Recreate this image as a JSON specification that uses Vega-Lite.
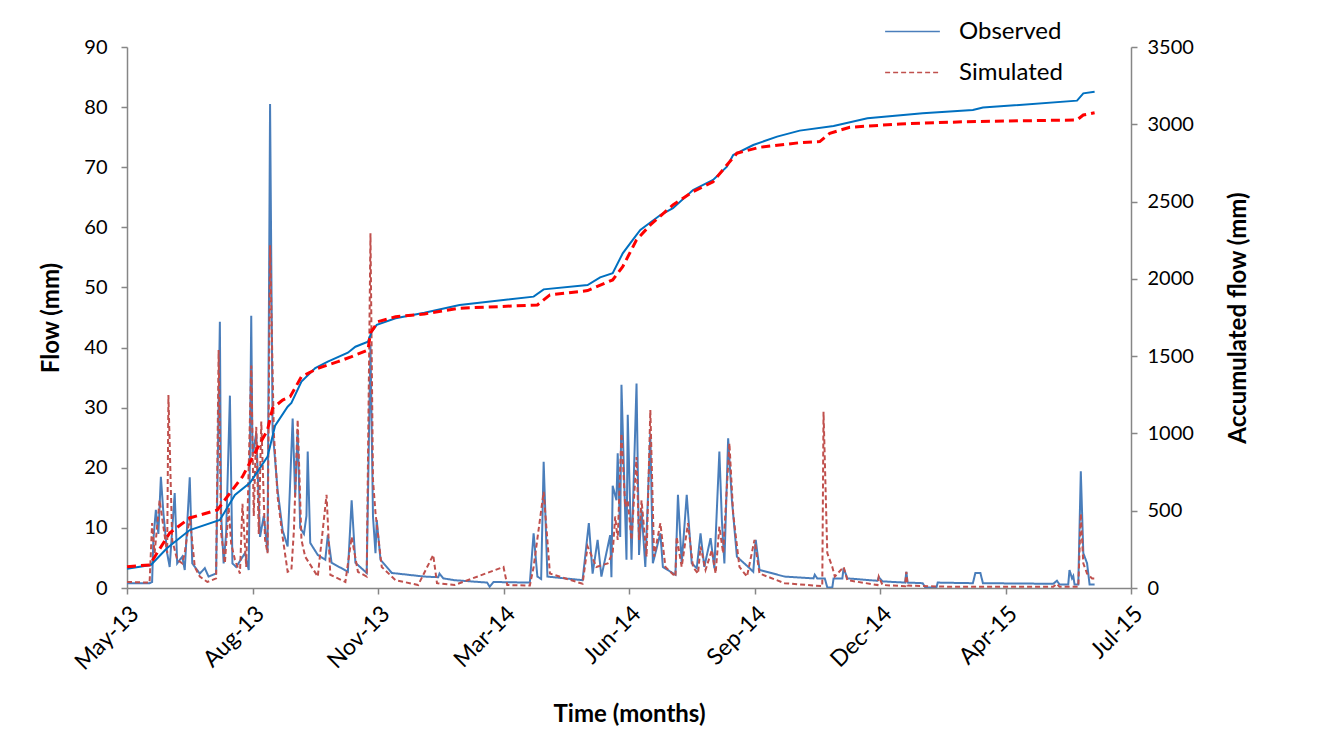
{
  "$schema": "https://vega.github.io/schema/vega-lite/v6.json",
  "width": 1004,
  "height": 541,
  "autosize": {"type": "none"},
  "padding": {"left": 127, "top": 47, "right": 194, "bottom": 147},
  "background": "white",
  "config": {
    "view": {"stroke": null},
    "font": "Lato",
    "axis": {"grid": false, "domainColor": "#868686", "tickColor": "#868686", "domainWidth": 1.5, "tickWidth": 1.5, "tickSize": 6, "labelColor": "#000000", "titleColor": "#000000", "labelFont": "Lato", "titleFont": "Lato", "labelFontSize": 20, "titleFontSize": 24, "titleFontWeight": "bold"}
  },
  "datasets": {
    "flow": [
      {"date":"2013-05-06","series":"Observed","flow":0.8},
      {"date":"2013-05-24","series":"Observed","flow":0.8},
      {"date":"2013-05-26","series":"Observed","flow":1.0},
      {"date":"2013-05-27","series":"Observed","flow":8},
      {"date":"2013-05-29","series":"Observed","flow":13},
      {"date":"2013-05-31","series":"Observed","flow":9},
      {"date":"2013-06-02","series":"Observed","flow":18.5},
      {"date":"2013-06-04","series":"Observed","flow":12.5},
      {"date":"2013-06-07","series":"Observed","flow":5.8},
      {"date":"2013-06-09","series":"Observed","flow":3.5},
      {"date":"2013-06-13","series":"Observed","flow":15.8},
      {"date":"2013-06-15","series":"Observed","flow":4.1},
      {"date":"2013-06-19","series":"Observed","flow":5.2},
      {"date":"2013-06-21","series":"Observed","flow":3.0},
      {"date":"2013-06-25","series":"Observed","flow":18.4},
      {"date":"2013-06-27","series":"Observed","flow":4.1},
      {"date":"2013-07-03","series":"Observed","flow":2.4},
      {"date":"2013-07-07","series":"Observed","flow":3.3},
      {"date":"2013-07-10","series":"Observed","flow":1.9},
      {"date":"2013-07-16","series":"Observed","flow":2.4},
      {"date":"2013-07-19","series":"Observed","flow":44.3},
      {"date":"2013-07-20","series":"Observed","flow":12.4},
      {"date":"2013-07-22","series":"Observed","flow":4.1},
      {"date":"2013-07-24","series":"Observed","flow":9.1},
      {"date":"2013-07-27","series":"Observed","flow":32},
      {"date":"2013-07-29","series":"Observed","flow":4.1},
      {"date":"2013-08-01","series":"Observed","flow":3.5},
      {"date":"2013-08-08","series":"Observed","flow":5.8},
      {"date":"2013-08-11","series":"Observed","flow":3.0},
      {"date":"2013-08-13","series":"Observed","flow":45.3},
      {"date":"2013-08-14","series":"Observed","flow":22},
      {"date":"2013-08-17","series":"Observed","flow":25.8},
      {"date":"2013-08-20","series":"Observed","flow":8.5},
      {"date":"2013-08-23","series":"Observed","flow":12},
      {"date":"2013-08-26","series":"Observed","flow":6},
      {"date":"2013-08-28","series":"Observed","flow":80.5},
      {"date":"2013-08-30","series":"Observed","flow":26.3},
      {"date":"2013-09-03","series":"Observed","flow":16.3},
      {"date":"2013-09-07","series":"Observed","flow":9.6},
      {"date":"2013-09-11","series":"Observed","flow":6.9},
      {"date":"2013-09-15","series":"Observed","flow":28.2},
      {"date":"2013-09-17","series":"Observed","flow":15.2},
      {"date":"2013-09-19","series":"Observed","flow":26.3},
      {"date":"2013-09-21","series":"Observed","flow":10},
      {"date":"2013-09-24","series":"Observed","flow":9},
      {"date":"2013-09-26","series":"Observed","flow":12},
      {"date":"2013-09-27","series":"Observed","flow":22.7},
      {"date":"2013-09-29","series":"Observed","flow":7.5},
      {"date":"2013-10-05","series":"Observed","flow":5.5},
      {"date":"2013-10-11","series":"Observed","flow":4.7},
      {"date":"2013-10-13","series":"Observed","flow":8.8},
      {"date":"2013-10-16","series":"Observed","flow":4.2},
      {"date":"2013-10-29","series":"Observed","flow":2.7},
      {"date":"2013-11-01","series":"Observed","flow":14.6},
      {"date":"2013-11-04","series":"Observed","flow":4.2},
      {"date":"2013-11-13","series":"Observed","flow":2.5},
      {"date":"2013-11-16","series":"Observed","flow":40.5},
      {"date":"2013-11-18","series":"Observed","flow":11.9},
      {"date":"2013-11-20","series":"Observed","flow":5.8},
      {"date":"2013-11-21","series":"Observed","flow":11.3},
      {"date":"2013-11-24","series":"Observed","flow":4.7},
      {"date":"2013-12-03","series":"Observed","flow":2.5},
      {"date":"2013-12-29","series":"Observed","flow":1.9},
      {"date":"2014-01-09","series":"Observed","flow":1.8},
      {"date":"2014-01-10","series":"Observed","flow":2.4},
      {"date":"2014-01-13","series":"Observed","flow":1.6},
      {"date":"2014-01-22","series":"Observed","flow":1.3},
      {"date":"2014-02-17","series":"Observed","flow":0.9},
      {"date":"2014-02-19","series":"Observed","flow":0.2},
      {"date":"2014-02-22","series":"Observed","flow":1.0},
      {"date":"2014-03-23","series":"Observed","flow":0.9},
      {"date":"2014-03-26","series":"Observed","flow":9.1},
      {"date":"2014-03-29","series":"Observed","flow":1.9},
      {"date":"2014-04-01","series":"Observed","flow":1.5},
      {"date":"2014-04-03","series":"Observed","flow":21},
      {"date":"2014-04-06","series":"Observed","flow":1.9},
      {"date":"2014-05-04","series":"Observed","flow":1.3},
      {"date":"2014-05-09","series":"Observed","flow":10.8},
      {"date":"2014-05-12","series":"Observed","flow":2.4},
      {"date":"2014-05-16","series":"Observed","flow":8},
      {"date":"2014-05-19","series":"Observed","flow":1.9},
      {"date":"2014-05-26","series":"Observed","flow":8.8},
      {"date":"2014-05-27","series":"Observed","flow":1.8},
      {"date":"2014-05-28","series":"Observed","flow":17},
      {"date":"2014-05-31","series":"Observed","flow":14.6},
      {"date":"2014-06-01","series":"Observed","flow":22.4},
      {"date":"2014-06-03","series":"Observed","flow":8.5},
      {"date":"2014-06-04","series":"Observed","flow":33.8},
      {"date":"2014-06-08","series":"Observed","flow":4.7},
      {"date":"2014-06-09","series":"Observed","flow":28.8},
      {"date":"2014-06-12","series":"Observed","flow":4.7},
      {"date":"2014-06-13","series":"Observed","flow":12.4},
      {"date":"2014-06-16","series":"Observed","flow":34},
      {"date":"2014-06-18","series":"Observed","flow":5.5},
      {"date":"2014-06-20","series":"Observed","flow":13},
      {"date":"2014-06-23","series":"Observed","flow":3.5},
      {"date":"2014-06-27","series":"Observed","flow":25.7},
      {"date":"2014-06-29","series":"Observed","flow":4.1},
      {"date":"2014-07-05","series":"Observed","flow":9.1},
      {"date":"2014-07-07","series":"Observed","flow":3.5},
      {"date":"2014-07-17","series":"Observed","flow":2.2},
      {"date":"2014-07-19","series":"Observed","flow":15.5},
      {"date":"2014-07-22","series":"Observed","flow":4.1},
      {"date":"2014-07-26","series":"Observed","flow":15.5},
      {"date":"2014-07-30","series":"Observed","flow":4.1},
      {"date":"2014-08-03","series":"Observed","flow":3.3},
      {"date":"2014-08-06","series":"Observed","flow":9.1},
      {"date":"2014-08-09","series":"Observed","flow":3.5},
      {"date":"2014-08-14","series":"Observed","flow":8.3},
      {"date":"2014-08-17","series":"Observed","flow":3.3},
      {"date":"2014-08-21","series":"Observed","flow":22.7},
      {"date":"2014-08-23","series":"Observed","flow":11.3},
      {"date":"2014-08-25","series":"Observed","flow":4.1},
      {"date":"2014-08-28","series":"Observed","flow":24.9},
      {"date":"2014-08-31","series":"Observed","flow":14.6},
      {"date":"2014-09-04","series":"Observed","flow":5.2},
      {"date":"2014-09-13","series":"Observed","flow":3.5},
      {"date":"2014-09-17","series":"Observed","flow":2.7},
      {"date":"2014-09-19","series":"Observed","flow":8},
      {"date":"2014-09-22","series":"Observed","flow":3},
      {"date":"2014-10-12","series":"Observed","flow":1.9},
      {"date":"2014-11-04","series":"Observed","flow":1.6},
      {"date":"2014-11-05","series":"Observed","flow":2.2},
      {"date":"2014-11-07","series":"Observed","flow":1.6},
      {"date":"2014-11-13","series":"Observed","flow":1.6},
      {"date":"2014-11-15","series":"Observed","flow":0.1},
      {"date":"2014-11-19","series":"Observed","flow":0.1},
      {"date":"2014-11-20","series":"Observed","flow":1.6},
      {"date":"2014-11-27","series":"Observed","flow":1.6},
      {"date":"2014-11-28","series":"Observed","flow":3.3},
      {"date":"2014-12-01","series":"Observed","flow":1.6},
      {"date":"2014-12-25","series":"Observed","flow":1.2},
      {"date":"2014-12-26","series":"Observed","flow":1.8},
      {"date":"2014-12-29","series":"Observed","flow":1.1},
      {"date":"2015-01-16","series":"Observed","flow":0.9},
      {"date":"2015-01-17","series":"Observed","flow":2.7},
      {"date":"2015-01-18","series":"Observed","flow":0.9},
      {"date":"2015-01-30","series":"Observed","flow":0.8},
      {"date":"2015-02-01","series":"Observed","flow":0.1},
      {"date":"2015-02-10","series":"Observed","flow":0.1},
      {"date":"2015-02-11","series":"Observed","flow":0.9},
      {"date":"2015-03-11","series":"Observed","flow":0.8},
      {"date":"2015-03-13","series":"Observed","flow":2.5},
      {"date":"2015-03-17","series":"Observed","flow":2.5},
      {"date":"2015-03-19","series":"Observed","flow":0.8},
      {"date":"2015-05-14","series":"Observed","flow":0.7},
      {"date":"2015-05-17","series":"Observed","flow":1.2},
      {"date":"2015-05-19","series":"Observed","flow":0.6},
      {"date":"2015-05-26","series":"Observed","flow":0.6},
      {"date":"2015-05-27","series":"Observed","flow":3.0},
      {"date":"2015-05-29","series":"Observed","flow":1.6},
      {"date":"2015-05-30","series":"Observed","flow":2.0},
      {"date":"2015-05-31","series":"Observed","flow":0.6},
      {"date":"2015-06-03","series":"Observed","flow":0.6},
      {"date":"2015-06-05","series":"Observed","flow":19.4},
      {"date":"2015-06-07","series":"Observed","flow":5.8},
      {"date":"2015-06-10","series":"Observed","flow":4.1},
      {"date":"2015-06-12","series":"Observed","flow":0.6},
      {"date":"2015-06-16","series":"Observed","flow":0.6},
      {"date":"2013-05-06","series":"Simulated","flow":1.0},
      {"date":"2013-05-24","series":"Simulated","flow":0.9},
      {"date":"2013-05-26","series":"Simulated","flow":10.8},
      {"date":"2013-05-28","series":"Simulated","flow":5.8},
      {"date":"2013-06-01","series":"Simulated","flow":14.6},
      {"date":"2013-06-04","series":"Simulated","flow":10.2},
      {"date":"2013-06-07","series":"Simulated","flow":5.8},
      {"date":"2013-06-08","series":"Simulated","flow":32.1},
      {"date":"2013-06-11","series":"Simulated","flow":8},
      {"date":"2013-06-15","series":"Simulated","flow":4.7},
      {"date":"2013-06-19","series":"Simulated","flow":4.1},
      {"date":"2013-06-21","series":"Simulated","flow":5.8},
      {"date":"2013-06-25","series":"Simulated","flow":11.9},
      {"date":"2013-06-29","series":"Simulated","flow":3.5},
      {"date":"2013-07-03","series":"Simulated","flow":1.9},
      {"date":"2013-07-09","series":"Simulated","flow":1.0},
      {"date":"2013-07-16","series":"Simulated","flow":1.6},
      {"date":"2013-07-18","series":"Simulated","flow":39.6},
      {"date":"2013-07-20","series":"Simulated","flow":9.1},
      {"date":"2013-07-23","series":"Simulated","flow":4.1},
      {"date":"2013-07-26","series":"Simulated","flow":13.5},
      {"date":"2013-07-28","series":"Simulated","flow":7.4},
      {"date":"2013-07-31","series":"Simulated","flow":4.7},
      {"date":"2013-08-04","series":"Simulated","flow":2.4},
      {"date":"2013-08-06","series":"Simulated","flow":14},
      {"date":"2013-08-09","series":"Simulated","flow":3.5},
      {"date":"2013-08-13","series":"Simulated","flow":37},
      {"date":"2013-08-15","series":"Simulated","flow":12},
      {"date":"2013-08-17","series":"Simulated","flow":26.8},
      {"date":"2013-08-19","series":"Simulated","flow":9},
      {"date":"2013-08-21","series":"Simulated","flow":27.7},
      {"date":"2013-08-24","series":"Simulated","flow":8},
      {"date":"2013-08-26","series":"Simulated","flow":5.8},
      {"date":"2013-08-28","series":"Simulated","flow":57},
      {"date":"2013-08-31","series":"Simulated","flow":25.8},
      {"date":"2013-09-03","series":"Simulated","flow":15.2},
      {"date":"2013-09-07","series":"Simulated","flow":8.5},
      {"date":"2013-09-11","series":"Simulated","flow":2.7},
      {"date":"2013-09-14","series":"Simulated","flow":3},
      {"date":"2013-09-16","series":"Simulated","flow":9.6},
      {"date":"2013-09-19","series":"Simulated","flow":28},
      {"date":"2013-09-22","series":"Simulated","flow":8},
      {"date":"2013-09-25","series":"Simulated","flow":5.2},
      {"date":"2013-10-05","series":"Simulated","flow":1.9},
      {"date":"2013-10-12","series":"Simulated","flow":15.5},
      {"date":"2013-10-15","series":"Simulated","flow":2.2},
      {"date":"2013-10-27","series":"Simulated","flow":1.0},
      {"date":"2013-11-01","series":"Simulated","flow":8.5},
      {"date":"2013-11-06","series":"Simulated","flow":2.7},
      {"date":"2013-11-13","series":"Simulated","flow":1.9},
      {"date":"2013-11-16","series":"Simulated","flow":59},
      {"date":"2013-11-18","series":"Simulated","flow":18},
      {"date":"2013-11-20","series":"Simulated","flow":12.5},
      {"date":"2013-11-25","series":"Simulated","flow":3.5},
      {"date":"2013-12-06","series":"Simulated","flow":1.3},
      {"date":"2013-12-24","series":"Simulated","flow":0.5},
      {"date":"2014-01-05","series":"Simulated","flow":5.5},
      {"date":"2014-01-08","series":"Simulated","flow":0.8},
      {"date":"2014-01-22","series":"Simulated","flow":0.5},
      {"date":"2014-03-02","series":"Simulated","flow":3.5},
      {"date":"2014-03-05","series":"Simulated","flow":0.5},
      {"date":"2014-03-23","series":"Simulated","flow":0.4},
      {"date":"2014-03-26","series":"Simulated","flow":3.5},
      {"date":"2014-04-03","series":"Simulated","flow":16},
      {"date":"2014-04-08","series":"Simulated","flow":2.4},
      {"date":"2014-05-04","series":"Simulated","flow":0.7},
      {"date":"2014-05-08","series":"Simulated","flow":6.9},
      {"date":"2014-05-15","series":"Simulated","flow":3.5},
      {"date":"2014-05-24","series":"Simulated","flow":4.1},
      {"date":"2014-05-28","series":"Simulated","flow":5.8},
      {"date":"2014-05-30","series":"Simulated","flow":11.9},
      {"date":"2014-06-01","series":"Simulated","flow":8},
      {"date":"2014-06-04","series":"Simulated","flow":25.7},
      {"date":"2014-06-07","series":"Simulated","flow":13.5},
      {"date":"2014-06-09","series":"Simulated","flow":14.6},
      {"date":"2014-06-12","series":"Simulated","flow":8},
      {"date":"2014-06-16","series":"Simulated","flow":21.8},
      {"date":"2014-06-18","series":"Simulated","flow":8},
      {"date":"2014-06-20","series":"Simulated","flow":14.6},
      {"date":"2014-06-24","series":"Simulated","flow":5.2},
      {"date":"2014-06-27","series":"Simulated","flow":29.6},
      {"date":"2014-06-30","series":"Simulated","flow":5.2},
      {"date":"2014-07-05","series":"Simulated","flow":10.8},
      {"date":"2014-07-09","series":"Simulated","flow":3.5},
      {"date":"2014-07-17","series":"Simulated","flow":1.9},
      {"date":"2014-07-18","series":"Simulated","flow":8.5},
      {"date":"2014-07-22","series":"Simulated","flow":3.5},
      {"date":"2014-07-27","series":"Simulated","flow":10.8},
      {"date":"2014-07-31","series":"Simulated","flow":3.5},
      {"date":"2014-08-04","series":"Simulated","flow":2.4},
      {"date":"2014-08-06","series":"Simulated","flow":6.9},
      {"date":"2014-08-10","series":"Simulated","flow":3},
      {"date":"2014-08-15","series":"Simulated","flow":6.3},
      {"date":"2014-08-18","series":"Simulated","flow":2.4},
      {"date":"2014-08-21","series":"Simulated","flow":10.2},
      {"date":"2014-08-24","series":"Simulated","flow":5.8},
      {"date":"2014-08-29","series":"Simulated","flow":24.1},
      {"date":"2014-09-01","series":"Simulated","flow":12.4},
      {"date":"2014-09-06","series":"Simulated","flow":3.5},
      {"date":"2014-09-12","series":"Simulated","flow":1.9},
      {"date":"2014-09-18","series":"Simulated","flow":8},
      {"date":"2014-09-22","series":"Simulated","flow":2.4},
      {"date":"2014-10-12","series":"Simulated","flow":0.8},
      {"date":"2014-11-11","series":"Simulated","flow":0.3},
      {"date":"2014-11-12","series":"Simulated","flow":29.3},
      {"date":"2014-11-15","series":"Simulated","flow":5.8},
      {"date":"2014-11-19","series":"Simulated","flow":3.5},
      {"date":"2014-11-21","series":"Simulated","flow":1.9},
      {"date":"2014-11-28","series":"Simulated","flow":3.5},
      {"date":"2014-12-01","series":"Simulated","flow":1.3},
      {"date":"2014-12-25","series":"Simulated","flow":0.5},
      {"date":"2014-12-26","series":"Simulated","flow":1.9},
      {"date":"2014-12-29","series":"Simulated","flow":0.5},
      {"date":"2015-01-16","series":"Simulated","flow":0.3},
      {"date":"2015-01-17","series":"Simulated","flow":2.7},
      {"date":"2015-01-18","series":"Simulated","flow":0.4},
      {"date":"2015-02-21","series":"Simulated","flow":0.2},
      {"date":"2015-05-14","series":"Simulated","flow":0.2},
      {"date":"2015-05-17","series":"Simulated","flow":0.7},
      {"date":"2015-05-19","series":"Simulated","flow":0.2},
      {"date":"2015-06-03","series":"Simulated","flow":0.2},
      {"date":"2015-06-05","series":"Simulated","flow":12.4},
      {"date":"2015-06-07","series":"Simulated","flow":4.1},
      {"date":"2015-06-10","series":"Simulated","flow":2.4},
      {"date":"2015-06-14","series":"Simulated","flow":1.6},
      {"date":"2015-06-16","series":"Simulated","flow":1.6}
    ],
    "acc": [
      {"date":"2013-05-06","series":"Observed","acc":125},
      {"date":"2013-05-25","series":"Observed","acc":149},
      {"date":"2013-06-07","series":"Observed","acc":259},
      {"date":"2013-06-25","series":"Observed","acc":375},
      {"date":"2013-07-19","series":"Observed","acc":440},
      {"date":"2013-07-31","series":"Observed","acc":602},
      {"date":"2013-08-12","series":"Observed","acc":680},
      {"date":"2013-08-26","series":"Observed","acc":850},
      {"date":"2013-09-01","series":"Observed","acc":1050},
      {"date":"2013-09-11","series":"Observed","acc":1173},
      {"date":"2013-09-14","series":"Observed","acc":1197},
      {"date":"2013-09-22","series":"Observed","acc":1335},
      {"date":"2013-10-03","series":"Observed","acc":1423},
      {"date":"2013-10-13","series":"Observed","acc":1464},
      {"date":"2013-10-29","series":"Observed","acc":1522},
      {"date":"2013-11-04","series":"Observed","acc":1561},
      {"date":"2013-11-14","series":"Observed","acc":1594},
      {"date":"2013-11-17","series":"Observed","acc":1658},
      {"date":"2013-11-21","series":"Observed","acc":1702},
      {"date":"2013-12-06","series":"Observed","acc":1745},
      {"date":"2013-12-29","series":"Observed","acc":1781},
      {"date":"2014-01-26","series":"Observed","acc":1831},
      {"date":"2014-03-26","series":"Observed","acc":1885},
      {"date":"2014-04-03","series":"Observed","acc":1932},
      {"date":"2014-05-08","series":"Observed","acc":1960},
      {"date":"2014-05-18","series":"Observed","acc":2010},
      {"date":"2014-05-28","series":"Observed","acc":2036},
      {"date":"2014-06-05","series":"Observed","acc":2165},
      {"date":"2014-06-13","series":"Observed","acc":2252},
      {"date":"2014-06-19","series":"Observed","acc":2316},
      {"date":"2014-07-05","series":"Observed","acc":2413},
      {"date":"2014-07-15","series":"Observed","acc":2457},
      {"date":"2014-07-31","series":"Observed","acc":2575},
      {"date":"2014-08-16","series":"Observed","acc":2640},
      {"date":"2014-08-27","series":"Observed","acc":2726},
      {"date":"2014-09-01","series":"Observed","acc":2801},
      {"date":"2014-09-17","series":"Observed","acc":2866},
      {"date":"2014-10-06","series":"Observed","acc":2920},
      {"date":"2014-10-24","series":"Observed","acc":2959},
      {"date":"2014-11-20","series":"Observed","acc":2989},
      {"date":"2014-12-17","series":"Observed","acc":3039},
      {"date":"2015-01-30","series":"Observed","acc":3071},
      {"date":"2015-03-11","series":"Observed","acc":3093},
      {"date":"2015-03-19","series":"Observed","acc":3108},
      {"date":"2015-06-02","series":"Observed","acc":3153},
      {"date":"2015-06-07","series":"Observed","acc":3200},
      {"date":"2015-06-16","series":"Observed","acc":3211},
      {"date":"2013-05-06","series":"Simulated","acc":138},
      {"date":"2013-05-24","series":"Simulated","acc":149},
      {"date":"2013-06-09","series":"Simulated","acc":356},
      {"date":"2013-06-25","series":"Simulated","acc":453},
      {"date":"2013-07-17","series":"Simulated","acc":505},
      {"date":"2013-07-27","series":"Simulated","acc":614},
      {"date":"2013-08-06","series":"Simulated","acc":720},
      {"date":"2013-08-20","series":"Simulated","acc":936},
      {"date":"2013-08-26","series":"Simulated","acc":1022},
      {"date":"2013-08-30","series":"Simulated","acc":1163},
      {"date":"2013-09-07","series":"Simulated","acc":1216},
      {"date":"2013-09-13","series":"Simulated","acc":1238},
      {"date":"2013-09-22","series":"Simulated","acc":1367},
      {"date":"2013-10-05","series":"Simulated","acc":1421},
      {"date":"2013-10-21","series":"Simulated","acc":1464},
      {"date":"2013-11-01","series":"Simulated","acc":1497},
      {"date":"2013-11-14","series":"Simulated","acc":1540},
      {"date":"2013-11-16","series":"Simulated","acc":1650},
      {"date":"2013-11-22","series":"Simulated","acc":1723},
      {"date":"2013-12-06","series":"Simulated","acc":1755},
      {"date":"2013-12-29","series":"Simulated","acc":1773},
      {"date":"2014-01-26","series":"Simulated","acc":1810},
      {"date":"2014-03-29","series":"Simulated","acc":1831},
      {"date":"2014-04-08","series":"Simulated","acc":1896},
      {"date":"2014-05-08","series":"Simulated","acc":1924},
      {"date":"2014-05-28","series":"Simulated","acc":1993},
      {"date":"2014-06-05","series":"Simulated","acc":2079},
      {"date":"2014-06-16","series":"Simulated","acc":2252},
      {"date":"2014-06-27","series":"Simulated","acc":2349},
      {"date":"2014-07-15","series":"Simulated","acc":2478},
      {"date":"2014-07-31","series":"Simulated","acc":2564},
      {"date":"2014-08-16","series":"Simulated","acc":2628},
      {"date":"2014-08-27","series":"Simulated","acc":2737},
      {"date":"2014-09-04","series":"Simulated","acc":2813},
      {"date":"2014-09-22","series":"Simulated","acc":2851},
      {"date":"2014-10-24","series":"Simulated","acc":2881},
      {"date":"2014-11-09","series":"Simulated","acc":2888},
      {"date":"2014-11-17","series":"Simulated","acc":2942},
      {"date":"2014-12-03","series":"Simulated","acc":2981},
      {"date":"2015-01-12","series":"Simulated","acc":3002},
      {"date":"2015-03-06","series":"Simulated","acc":3017},
      {"date":"2015-06-02","series":"Simulated","acc":3028},
      {"date":"2015-06-07","series":"Simulated","acc":3060},
      {"date":"2015-06-16","series":"Simulated","acc":3075}
    ]
  },
  "layer": [
    {
      "data": {"name": "flow"},
      "mark": {"type": "line", "strokeWidth": 2, "clip": true},
      "encoding": {
        "x": {
          "field": "date", "type": "temporal",
          "scale": {"type": "utc", "domain": [{"year": 2013, "month": 5, "date": 6, "utc": true}, {"year": 2015, "month": 7, "date": 15, "utc": true}]},
          "axis": {
            "title": "Time (months)", "format": "%b-%y", "labelAngle": -45, "labelAlign": "right", "labelBaseline": "top", "labelPadding": 8, "labelFontSize": 23, "titlePadding": 28,
            "values": [
              {"year": 2013, "month": 5, "date": 6, "utc": true},
              {"year": 2013, "month": 8, "date": 14, "utc": true},
              {"year": 2013, "month": 11, "date": 22, "utc": true},
              {"year": 2014, "month": 3, "date": 2, "utc": true},
              {"year": 2014, "month": 6, "date": 10, "utc": true},
              {"year": 2014, "month": 9, "date": 18, "utc": true},
              {"year": 2014, "month": 12, "date": 27, "utc": true},
              {"year": 2015, "month": 4, "date": 6, "utc": true},
              {"year": 2015, "month": 7, "date": 15, "utc": true}
            ]
          }
        },
        "y": {
          "field": "flow", "type": "quantitative",
          "scale": {"domain": [0, 90], "nice": false},
          "axis": {"title": "Flow (mm)", "values": [0,10,20,30,40,50,60,70,80,90], "labelPadding": 14, "titlePadding": 20}
        },
        "color": {
          "field": "series", "type": "nominal",
          "scale": {"domain": ["Observed", "Simulated"], "range": ["#4A7EBB", "#C0504D"]},
          "legend": {"title": null, "orient": "none", "legendX": 757, "legendY": -44, "symbolType": "stroke", "symbolSize": 3000, "symbolStrokeWidth": 1.5, "labelFontSize": 24, "labelFont": "Lato", "labelColor": "#000000", "rowPadding": -16, "labelOffset": 18}
        },
        "strokeDash": {
          "field": "series", "type": "nominal",
          "scale": {"domain": ["Observed", "Simulated"], "range": [[1, 0], [5, 3]]},
          "legend": {"title": null, "orient": "none", "legendX": 757, "legendY": -44, "symbolType": "stroke", "symbolSize": 3000, "symbolStrokeWidth": 1.5, "labelFontSize": 24, "labelFont": "Lato", "labelColor": "#000000", "rowPadding": -16, "labelOffset": 18}
        }
      }
    },
    {
      "data": {"name": "acc"},
      "encoding": {
        "x": {"field": "date", "type": "temporal"},
        "y": {
          "field": "acc", "type": "quantitative",
          "scale": {"domain": [0, 3500], "nice": false},
          "axis": {"orient": "right", "title": "Accumulated flow (mm)", "titleAngle": -90, "format": "d", "values": [0,500,1000,1500,2000,2500,3000,3500], "labelPadding": 10, "titlePadding": 57}
        }
      },
      "layer": [
        {
          "transform": [{"filter": "datum.series === 'Observed'"}],
          "mark": {"type": "line", "color": "#0070C0", "strokeWidth": 2}
        },
        {
          "transform": [{"filter": "datum.series === 'Simulated'"}],
          "mark": {"type": "line", "color": "#FF0000", "strokeWidth": 3, "strokeDash": [9, 5]}
        }
      ]
    }
  ],
  "resolve": {"scale": {"y": "independent"}}
}
